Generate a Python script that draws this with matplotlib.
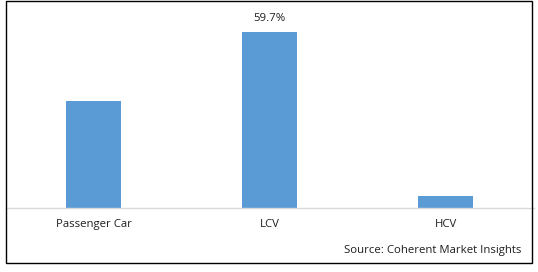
import matplotlib.pyplot as plt
from matplotlib.patches import Rectangle

categories = ["Passenger Car", "LCV", "HCV"]
shares = [36.3, 59.7, 4.0]
labels = ["", "59.7%", ""]

W, H = 538, 272
fig = plt.figure(figsize=(W / 100, H / 100), dpi=100)
plt.rcParams["font.family"] = ["Open Sans", "DejaVu Sans"]
txt = "#1e1e1e"
fs = 8.2

# outer frame
fig.patches.append(Rectangle((6 / W, 9 / H), 526 / W, 262 / H, transform=fig.transFigure,
                             fill=False, edgecolor="black", linewidth=1.0))

ax = fig.add_axes([5.5 / W, (H - 208) / H, 528 / W, (208 - 32) / H])
x = range(len(categories))
bars = ax.bar(x, shares, width=0.31, color="#5b9bd5")
ax.set_xlim(-0.5, 2.5)
ax.set_ylim(0, max(shares))

for b, lab in zip(bars, labels):
    if lab:
        ax.text(b.get_x() + b.get_width() / 2, b.get_height() + 4.6, lab,
                ha="center", va="center", fontsize=fs, color=txt)

for s in ["top", "left", "right"]:
    ax.spines[s].set_visible(False)
ax.spines["bottom"].set_color("#d9d9d9")
ax.spines["bottom"].set_linewidth(1.0)
ax.set_yticks([])
ax.set_xticks(list(x))
ax.set_xticklabels(categories, fontsize=fs, color=txt)
ax.tick_params(axis="x", length=0, pad=8)
ax.patch.set_alpha(0)

fig.text(521 / W, (H - 250) / H, "Source: Coherent Market Insights", ha="right", va="center",
         fontsize=fs, color=txt)

fig.savefig("out.png", dpi=100)
